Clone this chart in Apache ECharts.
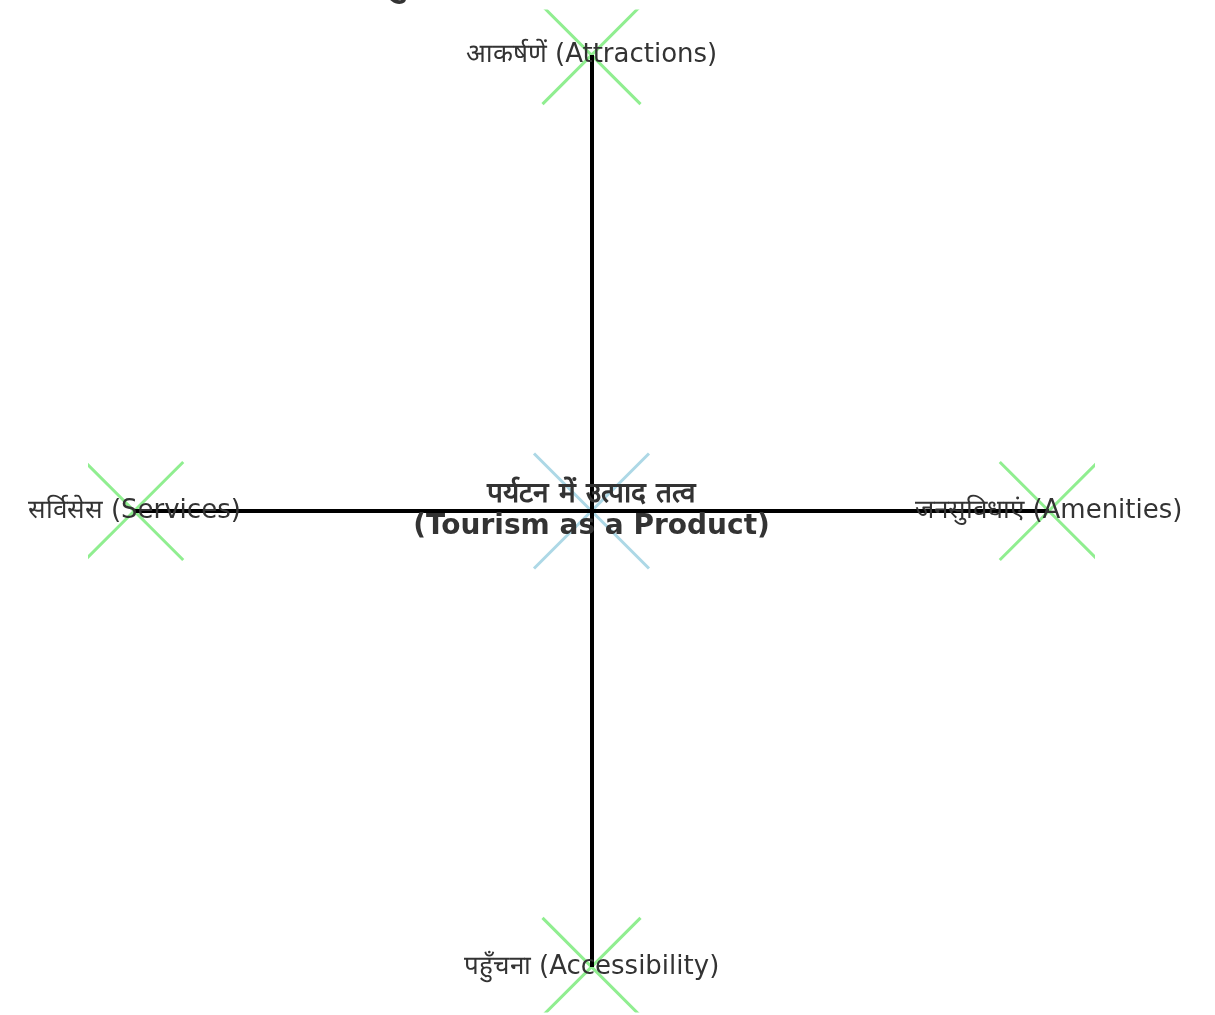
<!DOCTYPE html>
<html>
<head>
<meta charset="utf-8">
<script src="https://cdn.jsdelivr.net/npm/echarts@6/dist/echarts.min.js"></script>
<style>
html,body{margin:0;padding:0;background:#fff;}
#chart{width:1215px;height:1015px;}
</style>
</head>
<body>
<div id="chart"></div>
<script>
// ---- data ----
const titleText = '4A का मुख्य Model (Tourism Product)';
const nodeLabels = [
  'पर्यटन में उत्पाद तत्व\n(Tourism as a Product)',
  'आकर्षणें (Attractions)',
  'पहुँचना (Accessibility)',
  'सर्विसेस (Services)',
  'जनसुविधाएं (Amenities)'
];
const nodeX = [0, 0, 0, -1, 1];
const nodeY = [0, 1, -1, 0, 0];
const nodeKind = ['center', 'outer', 'outer', 'outer', 'outer'];
const edgeFrom = [0, 0, 0, 0];
const edgeTo = [1, 2, 3, 4];
const axisMin = -1.1;
const axisMax = 1.1;

// ---- styles ----
const FONT = 'DejaVu Sans';
const markerColor = { center: '#ADD8E6', outer: '#90EE90' };
const markerHalf = { center: 57.5, outer: 49 };

const chart = echarts.init(document.getElementById('chart'), null, { renderer: 'canvas' });

const edgeData = edgeFrom.map((f, i) => ({
  coords: [[nodeX[f], nodeY[f]], [nodeX[edgeTo[i]], nodeY[edgeTo[i]]]]
}));
const markerData = nodeX.map((x, i) => [x, nodeY[i], i]);
const labelData = nodeX.map((x, i) => {
  const d = { name: nodeLabels[i], value: [x, nodeY[i]] };
  if (nodeKind[i] === 'center') {
    d.label = { fontWeight: 'bold', fontSize: 28, lineHeight: 32, offset: [0, 3] };
  }
  return d;
});

chart.setOption({
  animation: false,
  backgroundColor: '#ffffff',
  title: {
    text: titleText,
    left: 'center',
    top: -38,
    textStyle: { fontFamily: FONT, fontSize: 35, fontWeight: 'bold', color: '#333333' }
  },
  grid: { left: 88.5, top: 9.5, width: 1006, height: 1003 },
  xAxis: { type: 'value', min: axisMin, max: axisMax, show: false },
  yAxis: { type: 'value', min: axisMin, max: axisMax, show: false },
  series: [
    {
      type: 'custom',
      coordinateSystem: 'cartesian2d',
      clip: true,
      z: 2,
      data: markerData,
      encode: { x: 0, y: 1 },
      renderItem: function (params, api) {
        const p = api.coord([api.value(0), api.value(1)]);
        const kind = nodeKind[api.value(2)];
        const h = markerHalf[kind];
        const st = { stroke: markerColor[kind], lineWidth: 3, fill: null };
        return {
          type: 'group',
          children: [
            { type: 'line', shape: { x1: p[0] - h, y1: p[1] - h, x2: p[0] + h, y2: p[1] + h }, style: st },
            { type: 'line', shape: { x1: p[0] - h, y1: p[1] + h, x2: p[0] + h, y2: p[1] - h }, style: st }
          ]
        };
      }
    },
    {
      type: 'lines',
      coordinateSystem: 'cartesian2d',
      z: 3,
      data: edgeData,
      lineStyle: { color: '#000000', width: 4, opacity: 1 }
    },
    {
      type: 'scatter',
      z: 5,
      symbolSize: 1,
      itemStyle: { color: 'rgba(0,0,0,0)', opacity: 1 },
      data: labelData,
      label: {
        show: true,
        position: 'inside',
        align: 'center',
        verticalAlign: 'middle',
        formatter: function (p) { return p.name; },
        fontFamily: FONT,
        fontSize: 26,
        color: '#333333',
        opacity: 1
      },
      labelLayout: { hideOverlap: false },
      emphasis: { disabled: true }
    }
  ]
});
</script>
</body>
</html>
